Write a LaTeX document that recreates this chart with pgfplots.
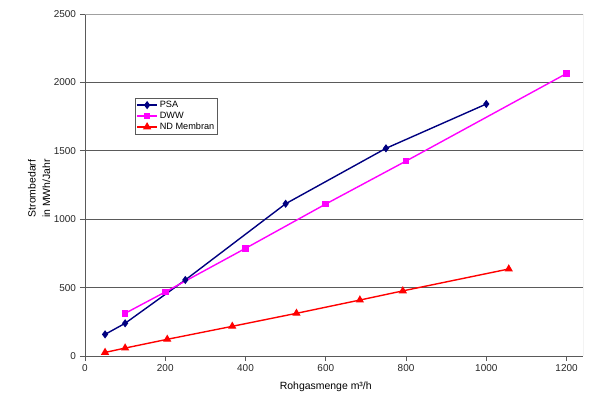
\documentclass[border=0pt]{standalone}
\usepackage{pgfplots}
\pgfplotsset{compat=1.18}
\usepackage{fontspec}
\setmainfont{Liberation Sans}
\definecolor{psa}{RGB}{0,0,128}
\definecolor{dww}{RGB}{255,0,255}
\definecolor{ndm}{RGB}{255,0,0}
\definecolor{gridc}{RGB}{90,90,90}
\definecolor{borderc}{RGB}{160,160,160}
\begin{document}
\begin{tikzpicture}
\useasboundingbox (-85bp,-41bp) rectangle (515bp,356bp);
\begin{axis}[
  at={(0,0)}, anchor=south west,
  scale only axis, width=498bp, height=342bp,
  xmin=0, xmax=1241, ymin=0, ymax=2500,
  xtick={0,200,...,1200}, ytick={0,500,...,2500},
  axis x line*=bottom, axis y line*=left,
  x axis line style={draw=none},
  y axis line style={draw=gridc, line width=0.8bp},
  tick align=outside, major tick length=5bp,
  every tick/.style={draw=gridc, line width=0.8bp},
  ymajorgrids, grid style={draw=gridc, line width=0.8bp},
  tick label style={font=\fontsize{10}{12}\selectfont, text=black!85},
  /pgf/number format/assume math mode=true,
  /pgf/number format/1000 sep={},
  xticklabel style={yshift=-0.5bp},
  yticklabel style={xshift=-0.5bp},
  xlabel={Rohgasmenge m³/h},
  every axis x label/.style={at={(axis cs:600,0)}, anchor=center, yshift=-31bp, font=\fontsize{10.5}{12}\selectfont},
  ylabel={Strombedarf\\in MWh/Jahr},
  every axis y label/.style={at={(axis description cs:-0.092,0.49)}, anchor=center, rotate=90, align=center, font=\fontsize{10.5}{14.5}\selectfont},
  legend style={at={(0.1004,0.755)}, anchor=north west, draw=gridc, line width=0.8bp, font=\fontsize{9.2}{11}\selectfont, inner xsep=1bp, inner ysep=1bp, row sep=-1bp, cells={anchor=west}},
  legend image code/.code={\draw[mark repeat=2,mark phase=2,#1] plot coordinates {(0bp,0bp) (10bp,0bp) (20bp,0bp)};},
]
\addplot[psa, line width=1.4bp, mark=diamond*, mark size=3bp, mark options={solid}] coordinates {
(50,158) (100,239) (250,556) (500,1113) (750,1518) (1000,1842)};
\addlegendentry{PSA}
\addplot[dww, line width=1.4bp, mark=square*, mark size=2.6bp] coordinates {
(100,312) (200,468) (400,787) (600,1111) (800,1425) (1200,2065)};
\addlegendentry{DWW}
\addplot[ndm, line width=1.4bp, mark=triangle*, mark size=3.4bp] coordinates {
(50,26) (100,58) (205,122) (367,217) (527,312) (685,409) (792,476) (1056,636)};
\addlegendentry{ND Membran}
\draw[borderc, line width=0.8bp] (axis description cs:0,1) -- (axis description cs:1,1) -- (axis description cs:1,0);
\draw[gridc, line width=0.8bp] (axis cs:0,0) -- (axis cs:1200,0);
\end{axis}
\end{tikzpicture}
\end{document}
